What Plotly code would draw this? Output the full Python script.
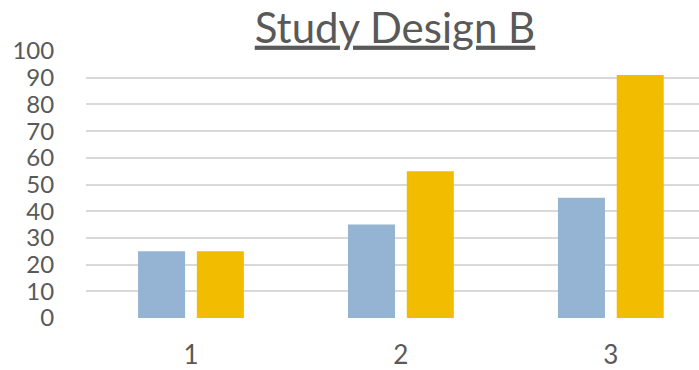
import plotly.graph_objects as go

categories = ["1", "2", "3"]
series_a = [25, 35, 45]
series_b = [25, 55, 91]
y_ticks = list(range(0, 101, 10))

FONT = "Lato"
GREY = "#595959"

fig = go.Figure()
fig.add_trace(go.Bar(x=categories, y=series_a, marker=dict(color="#95B3D2", line=dict(width=0)), name="A"))
fig.add_trace(go.Bar(x=categories, y=series_b, marker=dict(color="#F2BC00", line=dict(width=0)), name="B"))

fig.update_layout(
    width=699, height=370,
    margin=dict(l=86, r=0, t=51, b=49),
    paper_bgcolor="white", plot_bgcolor="white",
    showlegend=False,
    barmode="group", bargap=0.44, bargroupgap=0.2,
    title=dict(text="<span style='text-decoration:underline'>Study Design B</span>",
               x=395/699, xanchor="center", y=1-28/370, yanchor="middle",
               font=dict(family=FONT, size=42, color=GREY)),
    font=dict(family=FONT, color=GREY),
)
fig.update_xaxes(type="category", range=[-0.5, 2.42], showgrid=False, showline=False, zeroline=False,
                 ticks="outside", ticklen=14, tickcolor="rgba(0,0,0,0)",
                 tickfont=dict(family=FONT, size=26, color=GREY))
fig.update_yaxes(range=[0, 100], tickvals=y_ticks, showgrid=True, gridcolor="#D9D9D9", gridwidth=2,
                 zeroline=False, showline=False,
                 ticks="outside", ticklen=26, tickcolor="rgba(0,0,0,0)",
                 tickfont=dict(family=FONT, size=24, color=GREY))
fig.write_html("out.html")
